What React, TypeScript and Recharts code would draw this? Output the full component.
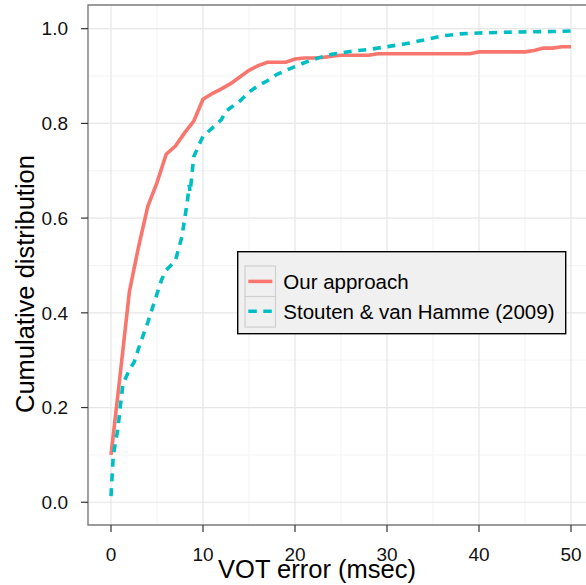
import React from 'react';
import { LineChart, Line, XAxis, YAxis, CartesianGrid, ReferenceArea, Legend, Label } from 'recharts';

const xTicks = [0, 10, 20, 30, 40, 50];
const yTicks = [0, 0.2, 0.4, 0.6, 0.8, 1.0];
const xMinor = [5, 15, 25, 35, 45];
const yMinor = [0.1, 0.3, 0.5, 0.7, 0.9];

const seriesNames = ['Our approach', 'Stouten & van Hamme (2009)'];
const seriesColors = ['#F8766D', '#00BFC4'];

const ourX = [0, 1, 2, 3, 4, 5, 6, 7, 8, 9, 10, 11, 12, 13, 14, 15, 16, 17, 18, 19, 20, 21, 22, 23, 24, 25, 26, 27, 28, 29, 30, 35, 39, 40, 45, 46, 47, 48, 49, 50];
const ourY = [0.1, 0.27, 0.445, 0.54, 0.625, 0.675, 0.735, 0.752, 0.78, 0.805, 0.851, 0.863, 0.873, 0.884, 0.898, 0.912, 0.922, 0.929, 0.929, 0.929, 0.936, 0.938, 0.938, 0.939, 0.942, 0.944, 0.944, 0.944, 0.944, 0.947, 0.947, 0.947, 0.947, 0.951, 0.951, 0.954, 0.959, 0.959, 0.962, 0.962];

const stoutenX = [0, 0.25, 0.75, 1, 1.3, 2, 2.5, 3, 4, 5, 5.5, 6, 7, 7.7, 8.3, 8.5, 8.6, 9, 10, 11, 12, 12.5, 13, 14, 15, 16, 17, 18, 19, 20, 21, 22, 23, 24, 26, 28, 30, 32, 34, 36, 38, 40, 44, 48, 50];
const stoutenY = [0.013, 0.1, 0.155, 0.2, 0.25, 0.28, 0.295, 0.325, 0.38, 0.44, 0.47, 0.49, 0.51, 0.56, 0.635, 0.67, 0.655, 0.73, 0.773, 0.79, 0.808, 0.826, 0.833, 0.847, 0.866, 0.88, 0.89, 0.903, 0.912, 0.92, 0.928, 0.935, 0.941, 0.946, 0.952, 0.956, 0.962, 0.968, 0.976, 0.985, 0.989, 0.991, 0.993, 0.994, 0.995];

const ourData = ourX.map((x, i) => ({ x, y: ourY[i] }));
const stoutenData = stoutenX.map((x, i) => ({ x, y: stoutenY[i] }));

const FONT = '"Liberation Sans", Arial, Helvetica, sans-serif';

const renderLegend = () => (
  <svg width={332} height={86} style={{ display: 'block', fontFamily: FONT }}>
    <rect x={0.7} y={0.7} width={328} height={82} fill="#f0f0f0" stroke="#000" strokeWidth={1.4} />
    <rect x={8} y={15} width={30.5} height={30.5} fill="#f0f0f0" stroke="#cfcfcf" strokeWidth={1.2} />
    <rect x={8} y={45.6} width={30.5} height={30.5} fill="#f0f0f0" stroke="#cfcfcf" strokeWidth={1.2} />
    <line x1={11.3} x2={35.3} y1={30.4} y2={30.4} stroke={seriesColors[0]} strokeWidth={3.5} />
    <line x1={11.3} x2={35.3} y1={60.3} y2={60.3} stroke={seriesColors[1]} strokeWidth={3.5} strokeDasharray="8.5 6.5" />
    <text x={46.3} y={38.3} fontSize={20.5} fill="#000">{seriesNames[0]}</text>
    <text x={46.3} y={68} fontSize={20.5} fill="#000">{seriesNames[1]}</text>
  </svg>
);

export default function App() {
  return (
    <div style={{ position: 'absolute', left: 0, top: 0, width: 586, height: 585, overflow: 'hidden', background: '#fff' }}>
      <LineChart width={600} height={585} margin={{ top: 5, right: 6, left: 0, bottom: 0 }} style={{ fontFamily: FONT }}>
        <CartesianGrid horizontalValues={yMinor} verticalValues={xMinor} stroke="#f3f3f3" strokeWidth={1} />
        <CartesianGrid stroke="#e6e6e6" strokeWidth={1.2} />
        <XAxis
          dataKey="x"
          type="number"
          domain={[-2.5, 52.5]}
          allowDataOverflow
          ticks={xTicks}
          height={60}
          tickSize={7}
          tickMargin={16}
          axisLine={false}
          tickLine={{ stroke: '#333', strokeWidth: 1.2 }}
          tick={{ fill: '#111', fontSize: 19, fontFamily: FONT }}
        >
          <Label
            content={() => (
              <text x={317} y={578.3} textAnchor="middle" fontSize={25.5} fill="#000" fontFamily={FONT}>
                VOT error (msec)
              </text>
            )}
          />
        </XAxis>
        <YAxis
          type="number"
          domain={[-0.048, 1.05]}
          allowDataOverflow
          ticks={yTicks}
          width={88}
          tickSize={7}
          tickMargin={13}
          axisLine={false}
          tickFormatter={(v: number) => v.toFixed(1)}
          tickLine={{ stroke: '#333', strokeWidth: 1.2 }}
          tick={{ fill: '#111', fontSize: 19, fontFamily: FONT }}
        >
          <Label
            content={() => (
              <text x={33.5} y={413} transform="rotate(-90 33.5 413)" textAnchor="start" fontSize={25.5} fill="#000" fontFamily={FONT}>
                Cumulative distribution
              </text>
            )}
          />
        </YAxis>
        <ReferenceArea x1={-2.5} x2={52.5} y1={-0.048} y2={1.05} fill="none" stroke="#7f7f7f" strokeWidth={1.4} />
        <Line
          data={ourData}
          dataKey="y"
          name={seriesNames[0]}
          type="linear"
          stroke={seriesColors[0]}
          strokeWidth={3.6}
          dot={false}
          activeDot={false}
          isAnimationActive={false}
        />
        <Line
          data={stoutenData}
          dataKey="y"
          name={seriesNames[1]}
          type="linear"
          stroke={seriesColors[1]}
          strokeWidth={3.6}
          strokeDasharray="8 6.7"
          dot={false}
          activeDot={false}
          isAnimationActive={false}
        />
        <Legend
          layout="vertical"
          align="center"
          verticalAlign="middle"
          content={renderLegend}
          wrapperStyle={{ position: 'absolute', left: 237, top: 251, width: 332, height: 86 }}
        />
      </LineChart>
    </div>
  );
}
